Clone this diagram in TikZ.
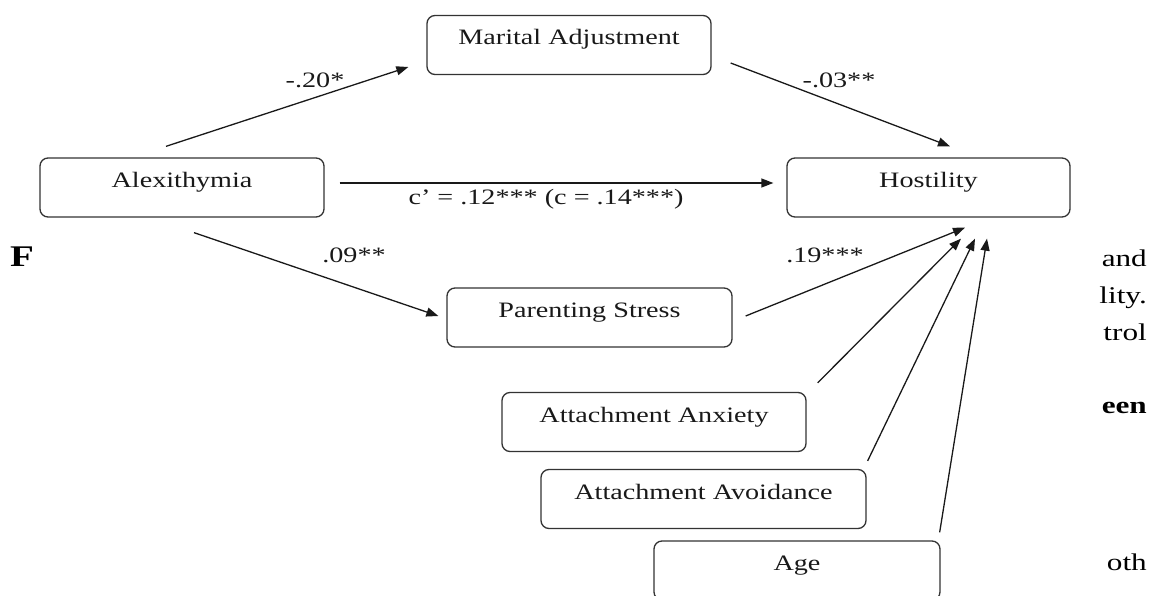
\documentclass[tikz,border=0pt]{standalone}
\usepackage{fontspec}
\setmainfont{Liberation Serif}
\newfontfamily\diagfont[FakeStretch=1.28]{Liberation Serif}
\newfontfamily\bodyfont[FakeStretch=1.3]{Liberation Serif}
\usetikzlibrary{arrows.meta,calc}
\begin{document}
\begin{tikzpicture}[x=1pt,y=-1pt,
  box/.style={draw=black!80, line width=1.3pt, rounded corners=8pt,
    minimum height=59pt, text height=0.7em, text depth=0.7em, inner sep=0pt,
    font=\diagfont\fontsize{22}{26}\selectfont, text=black!90},
  lbl/.style={font=\diagfont\fontsize{22}{26}\selectfont, text=black!90,
    inner sep=0pt, anchor=base},
  link/.style={line width=1.3pt, draw=black!90,
    -{Triangle[length=12pt,width=9pt]}},
  frag/.style={font=\bodyfont\fontsize{24}{28}\selectfont, inner sep=0pt,
    anchor=base east}]
\useasboundingbox (0,0) rectangle (1157,596);

% variables
\node[box, minimum width=284pt] (mar)   at (569,45)    {Marital Adjustment};
\node[box, minimum width=284pt] (alex)  at (182,187.5) {Alexithymia};
\node[box, minimum width=283pt] (host)  at (928.5,187.5) {Hostility};
\node[box, minimum width=285pt] (par)   at (589.5,317.5) {Parenting Stress};
\node[box, minimum width=304pt] (anx)   at (654,422)   {Attachment Anxiety};
\node[box, minimum width=325pt] (avoid) at (703.5,499) {Attachment Avoidance};
\node[box, minimum width=286pt] (age)   at (797,570.5) {Age};

% paths
\draw[link] ([shift={(-16,-11)}]alex.north) -- ([shift={(-18,22)}]mar.west);
\draw[link] ([shift={(19,18)}]mar.east) -- ([shift={(21.5,-11)}]host.north);
\draw[link] ([shift={(15,-4.5)}]alex.east) -- ([shift={(-13,-4.5)}]host.west);
\draw[link] ([shift={(12,15)}]alex.south) -- ([shift={(-8,-1.5)}]par.west);
\draw[link] ([shift={(13,-1.5)}]par.east) -- ([shift={(36.5,10)}]host.south);
\draw[link] ([shift={(11,-9)}]anx.north east) -- ([shift={(32.5,21)}]host.south);
\draw[link] ([shift={(1,-8)}]avoid.north east) -- ([shift={(46.5,21)}]host.south);
\draw[link] ([shift={(-1,-8)}]age.north east) -- ([shift={(58.5,21)}]host.south);

% coefficients
\node[lbl] (ca) at (315,88)  {-.20*};
\node[lbl] (cb) at (839,88)  {-.03**};
\node[lbl] (cc) at (546,205) {c’ = .12*** (c = .14***)};
\node[lbl] (cd) at (354,262) {.09**};
\node[lbl] (ce) at (825,263) {.19***};

% surrounding body text
\node[frag, anchor=base west, font=\bodyfont\bfseries\fontsize{30}{34}\selectfont] (fa) at (10,266) {F};
\node[frag] (fb) at (1147,266) {and};
\node[frag] (fc) at (1147,303) {lity.};
\node[frag] (fd) at (1147,340) {trol};
\node[frag, font=\bodyfont\bfseries\fontsize{24}{28}\selectfont] (fe) at (1147,413) {een};
\node[frag] (ff) at (1147,570) {oth};
\end{tikzpicture}
\end{document}
